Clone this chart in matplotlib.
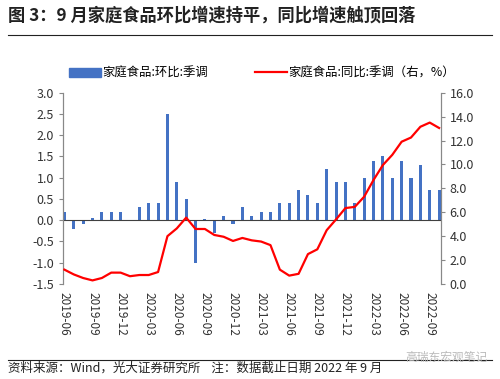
import numpy as np
import matplotlib
matplotlib.use('Agg')
import matplotlib.pyplot as plt
from matplotlib.lines import Line2D

plt.rcParams['font.family'] = ['Noto Sans CJK SC', 'DejaVu Sans']
plt.rcParams['axes.unicode_minus'] = False

#
# Data (41 monthly points).
#

mom = [0.2, -0.2, -0.1, 0.05, 0.2, 0.2, 0.2, 0.0, 0.3, 0.4,
       0.4, 2.5, 0.9, 0.5, -1.0, 0.03, -0.3, 0.1, -0.1, 0.3,
       0.1, 0.2, 0.2, 0.4, 0.4, 0.7, 0.6, 0.4, 1.2, 0.9,
       0.9, 0.4, 1.0, 1.4, 1.5, 1.0, 1.4, 1.0, 1.3, 0.7,
       0.7]
yoy = [1.2, 0.8, 0.5, 0.3, 0.5, 0.95, 0.95, 0.65, 0.75, 0.75,
       1.0, 4.0, 4.65, 5.55, 4.6, 4.6, 4.1, 3.95, 3.6, 3.85,
       3.65, 3.55, 3.25, 1.2, 0.7, 0.85, 2.5, 2.9, 4.5, 5.4,
       6.35, 6.45, 7.3, 8.7, 9.95, 10.8, 11.9, 12.25, 13.15, 13.5,
       13.05]
tick_labels = ['2019-06', '2019-09', '2019-12', '2020-03', '2020-06',
               '2020-09', '2020-12', '2021-03', '2021-06', '2021-09',
               '2021-12', '2022-03', '2022-06', '2022-09']

title = '图 3：9 月家庭食品环比增速持平，同比增速触顶回落'
source = '资料来源：Wind，光大证券研究所    注：数据截止日期 2022 年 9 月'
bar_name = '家庭食品:环比:季调'
line_name = '家庭食品:同比:季调（右，%）'

x = np.arange(len(mom))

fig = plt.figure(figsize=(5.0, 3.79), dpi=100)
ax = fig.add_axes([0.126, 0.2507, 0.755, 0.5047])
ax2 = ax.twinx()

# bars on the left axis, line on the right axis drawn on top
ax.bar(x, mom, width=0.33, color='#4472C4', zorder=3)
ax.axhline(0, color='#404040', linewidth=0.8, zorder=4)
ax2.plot(x, yoy, color='#FF0000', linewidth=1.6, zorder=5)

ax.set_xlim(-0.15, len(mom) - 0.85)
ax.set_ylim(-1.5, 3.0)
ax.set_yticks(np.arange(-1.5, 3.01, 0.5))
ax.set_yticklabels(['%.1f' % v for v in np.arange(-1.5, 3.01, 0.5)])
ax2.set_ylim(0, 16)
ax2.set_yticks(np.arange(0, 16.1, 2))
ax2.set_yticklabels(['%.1f' % v for v in np.arange(0, 16.1, 2)])

ax.set_xticks(x[::3])
ax.set_xticklabels(tick_labels, rotation=-90, fontsize=8.5, color='#333333')
ax.tick_params(axis='x', length=0, pad=6)
ax.tick_params(axis='y', labelsize=9, colors='#333333', length=3,
               color='#888888', direction='out')
ax2.tick_params(axis='y', labelsize=9, colors='#333333', length=3,
                color='#888888', direction='out')

for a in (ax, ax2):
    a.spines['top'].set_visible(False)
    a.spines['bottom'].set_visible(False)
    a.spines['left'].set_color('#888888')
    a.spines['right'].set_color('#888888')
    a.spines['left'].set_linewidth(0.8)
    a.spines['right'].set_linewidth(0.8)

#
# Legend
#

handles = [plt.Rectangle((0, 0), 1, 1, color='#4472C4'),
           Line2D([0], [0], color='#FF0000', linewidth=1.6)]
fig.legend(handles, [bar_name, line_name], loc='center', ncol=2,
           bbox_to_anchor=(0.524, 0.807), frameon=False, fontsize=8.9,
           handlelength=2.6, handleheight=0.7, columnspacing=3.8,
           handletextpad=0.1)

#
# Title, rules and source
#

fig.text(0.016, 0.958, title, fontsize=12.4, fontweight='bold',
         va='center', ha='left', color='#222222')
fig.add_artist(Line2D([0.016, 0.984], [0.908, 0.908], color='#222222',
                      linewidth=0.8))
fig.add_artist(Line2D([0.016, 0.984], [0.05, 0.05], color='#222222',
                      linewidth=0.8))
fig.text(0.016, 0.028, source, fontsize=9, va='center', ha='left',
         color='#222222')
fig.text(0.975, 0.058, '高瑞东宏观笔记', fontsize=8.5, va='center', ha='right',
         color='#BBBBBB')

fig.savefig('out.png', dpi=100)
